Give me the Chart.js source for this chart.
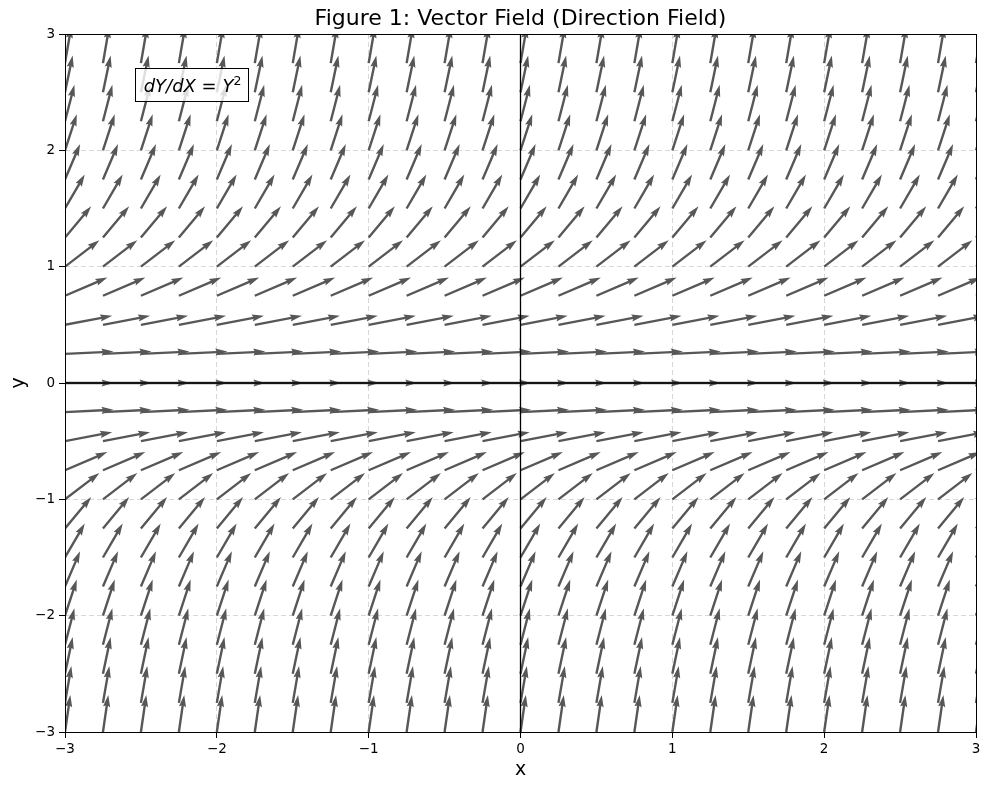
<!DOCTYPE html>
<html>
<head>
<meta charset="utf-8">
<script src="https://cdn.jsdelivr.net/npm/chart.js@4.4.0/dist/chart.umd.min.js"></script>
<style>
  html, body { margin: 0; padding: 0; background: #fff; }
  canvas { display: block; }
</style>
</head>
<body>
<canvas id="chart" width="989" height="790"></canvas>
<script>
// Grid of arrow tails (x and y), and the slope dY/dX = Y^2 on each row
const xGrid = [-3, -2.75, -2.5, -2.25, -2, -1.75, -1.5, -1.25, -1, -0.75, -0.5, -0.25, 0,
               0.25, 0.5, 0.75, 1, 1.25, 1.5, 1.75, 2, 2.25, 2.5, 2.75, 3];
const yGrid = [-3, -2.75, -2.5, -2.25, -2, -1.75, -1.5, -1.25, -1, -0.75, -0.5, -0.25, 0,
               0.25, 0.5, 0.75, 1, 1.25, 1.5, 1.75, 2, 2.25, 2.5, 2.75, 3];
const rowSlopes = [9, 7.5625, 6.25, 5.0625, 4, 3.0625, 2.25, 1.5625, 1, 0.5625, 0.25, 0.0625, 0,
                   0.0625, 0.25, 0.5625, 1, 1.5625, 2.25, 3.0625, 4, 5.0625, 6.25, 7.5625, 9];
const tickValues = [-3, -2, -1, 0, 1, 2, 3];
const titleText = 'Figure 1: Vector Field (Direction Field)';
const arrowLength = 0.32; // in data units, every arrow normalized

// build the point table for chart.js
const points = [];
yGrid.forEach((yv, j) => {
  xGrid.forEach((xv) => {
    points.push({x: xv, y: yv, s: rowSlopes[j]});
  });
});

const minus = (v) => String(v).replace('-', '\u2212');

// draw a matplotlib-like quiver arrow as a polygon
function drawArrow(ctx, x0, y0, x1, y1) {
  const len = Math.hypot(x1 - x0, y1 - y0);
  const ux = (x1 - x0) / len, uy = (y1 - y0) / len;
  const px = -uy, py = ux;
  const w = 2.4;
  const hw = w / 2;
  const headLen = 5 * w, headAxis = 4.5 * w, headHalf = 1.5 * w;
  const pts = [
    [x0 + px * hw, y0 + py * hw],
    [x0 + ux * (len - headAxis) + px * hw, y0 + uy * (len - headAxis) + py * hw],
    [x0 + ux * (len - headLen) + px * headHalf, y0 + uy * (len - headLen) + py * headHalf],
    [x1, y1],
    [x0 + ux * (len - headLen) - px * headHalf, y0 + uy * (len - headLen) - py * headHalf],
    [x0 + ux * (len - headAxis) - px * hw, y0 + uy * (len - headAxis) - py * hw],
    [x0 - px * hw, y0 - py * hw]
  ];
  ctx.beginPath();
  ctx.moveTo(pts[0][0], pts[0][1]);
  for (let i = 1; i < pts.length; i++) ctx.lineTo(pts[i][0], pts[i][1]);
  ctx.closePath();
  ctx.fill();
}

const quiverPlugin = {
  id: 'quiver',
  afterDatasetsDraw(chart) {
    const {ctx, chartArea: a, scales: {x, y}} = chart;
    ctx.save();
    ctx.beginPath();
    ctx.rect(a.left, a.top, a.right - a.left, a.bottom - a.top);
    ctx.clip();
    ctx.fillStyle = '#575757';
    chart.data.datasets[0].data.forEach((p) => {
      const n = Math.hypot(1, p.s);
      const x0 = x.getPixelForValue(p.x), y0 = y.getPixelForValue(p.y);
      const x1 = x.getPixelForValue(p.x + arrowLength / n);
      const y1 = y.getPixelForValue(p.y + arrowLength * p.s / n);
      drawArrow(ctx, x0, y0, x1, y1);
    });
    // zero lines
    ctx.strokeStyle = '#000';
    ctx.lineWidth = 1.3;
    const zx = x.getPixelForValue(0), zy = y.getPixelForValue(0);
    ctx.beginPath();
    ctx.moveTo(zx, a.top); ctx.lineTo(zx, a.bottom);
    ctx.moveTo(a.left, zy); ctx.lineTo(a.right, zy);
    ctx.stroke();
    ctx.restore();

    // frame
    ctx.save();
    ctx.strokeStyle = '#000';
    ctx.lineWidth = 1;
    const fl = Math.floor(a.left) + 0.5, ft = Math.floor(a.top) + 0.5;
    const fr = Math.floor(a.right) + 0.5, fb = Math.floor(a.bottom) + 0.5;
    ctx.strokeRect(fl, ft, fr - fl, fb - ft);

    // equation box
    const bx = a.left + 70, by = a.top + 34, bw = 113, bh = 33;
    ctx.fillStyle = 'rgba(255,255,255,0.8)';
    ctx.fillRect(bx, by, bw, bh);
    ctx.strokeRect(bx + 0.5, by + 0.5, bw, bh);
    const it = 'italic 18px "DejaVu Sans"', up = '18px "DejaVu Sans"', sup = '12.5px "DejaVu Sans"';
    const parts = [[it, 'dY/dX', 0], [up, ' = ', 0], [it, 'Y', 0], [sup, '2', -7]];
    let total = 0;
    parts.forEach((pt) => { ctx.font = pt[0]; total += ctx.measureText(pt[1]).width; });
    let tx = bx + (bw - total) / 2 + 1;
    const base = by + 24;
    ctx.fillStyle = '#000';
    ctx.textBaseline = 'alphabetic';
    ctx.textAlign = 'left';
    parts.forEach((pt) => {
      ctx.font = pt[0];
      ctx.fillText(pt[1], tx, base + pt[2]);
      tx += ctx.measureText(pt[1]).width;
    });

    // title
    ctx.font = '22px "DejaVu Sans"';
    ctx.textAlign = 'center';
    ctx.textBaseline = 'middle';
    ctx.fillText(titleText, (a.left + a.right) / 2, 19.5);
    ctx.restore();
  }
};

const gridOpts = {
  color: 'rgba(170,170,170,0.6)',
  lineWidth: 0.8,
  tickBorderDash: [],
  tickColor: '#000',
  tickWidth: 1,
  tickLength: 6,
  drawTicks: true
};

new Chart(document.getElementById('chart'), {
  type: 'scatter',
  data: {
    datasets: [{
      label: 'arrows',
      data: points,
      pointRadius: 0,
      pointHoverRadius: 0
    }]
  },
  options: {
    responsive: false,
    animation: false,
    layout: {padding: {top: 34, right: 13, left: 0, bottom: 0}},
    plugins: {
      legend: {display: false},
      tooltip: {enabled: false},
      title: {display: false}
    },
    scales: {
      x: {
        type: 'linear',
        min: -3, max: 3,
        afterFit: (s) => { s.height = 58; },
        afterBuildTicks: (s) => { s.ticks = tickValues.map((v) => ({value: v})); },
        border: {display: false, dash: [5, 3]},
        grid: gridOpts,
        ticks: {
          color: '#000', padding: 3,
          font: {family: '"DejaVu Sans"', size: 13.5},
          maxRotation: 0,
          callback: (v) => minus(v)
        },
        title: {
          display: true, text: 'x', color: '#000',
          font: {family: '"DejaVu Sans"', size: 19},
          padding: {top: 0, bottom: 9}
        }
      },
      y: {
        type: 'linear',
        min: -3, max: 3,
        afterFit: (s) => { s.width = 65; },
        afterBuildTicks: (s) => { s.ticks = tickValues.map((v) => ({value: v})); },
        border: {display: false, dash: [5, 3]},
        grid: gridOpts,
        ticks: {
          color: '#000', padding: 4,
          font: {family: '"DejaVu Sans"', size: 13.5},
          callback: (v) => minus(v)
        },
        title: {
          display: true, text: 'y', color: '#000',
          font: {family: '"DejaVu Sans"', size: 19},
          padding: {top: 8, bottom: 0}
        }
      }
    }
  },
  plugins: [quiverPlugin]
});
</script>
</body>
</html>
